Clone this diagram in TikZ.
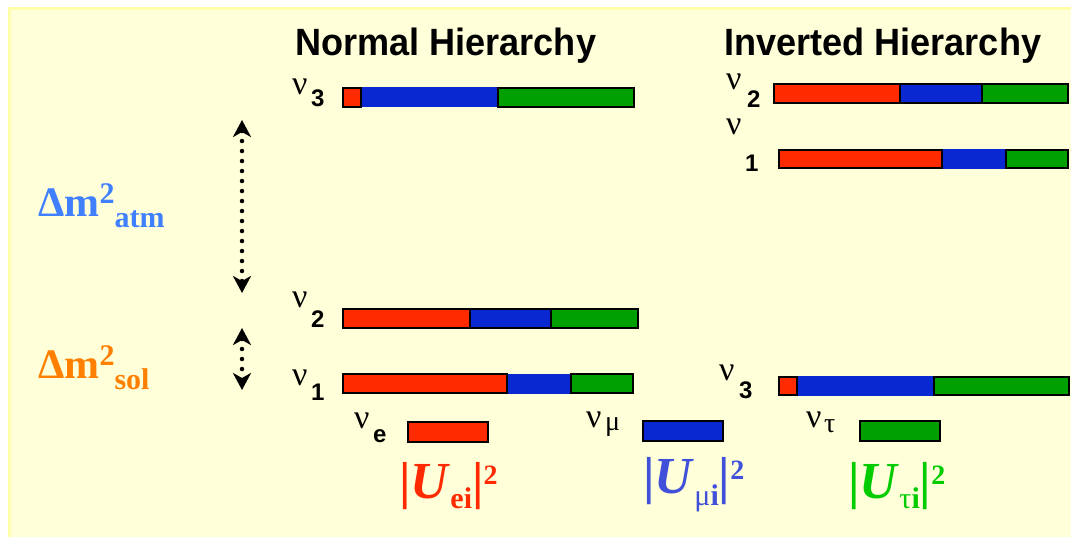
\documentclass[tikz,border=0pt]{standalone}
\usepackage{fontspec}
\setmainfont{Liberation Serif}
\setsansfont{Liberation Sans}
\newfontfamily\headfont[FakeStretch=0.95]{Liberation Sans}
\usetikzlibrary{arrows.meta}

\definecolor{paper}{RGB}{255,255,217}
\definecolor{paperedge}{RGB}{255,255,170}
\definecolor{mixred}{RGB}{255,42,0}
\definecolor{mixblue}{RGB}{10,40,210}
\definecolor{mixgreen}{RGB}{0,160,0}
\definecolor{atmblue}{RGB}{64,128,255}
\definecolor{solorange}{RGB}{255,128,0}
\definecolor{ublue}{RGB}{64,80,216}
\definecolor{ugreen}{RGB}{0,204,0}

\tikzset{
  seg/.style={anchor=west, minimum height=18.5pt, inner sep=0pt, outer sep=0pt, draw=black, line width=1.6pt},
  bareseg/.style={seg, draw=none, minimum height=20pt},
  flav/.style={seg, minimum height=20.5pt},
  nu/.style={anchor=base west, inner sep=0pt, font=\fontsize{34}{34}\selectfont},
  idx/.style={anchor=base west, inner sep=0pt, font=\sffamily\bfseries\fontsize{24}{24}\selectfont},
  greek/.style={anchor=base west, inner sep=0pt, font=\fontsize{28}{28}\selectfont},
  title/.style={anchor=base west, inner sep=0pt, font=\headfont\bfseries\fontsize{38}{38}\selectfont},
  dmlab/.style={anchor=base west, inner sep=0pt, font=\bfseries\fontsize{42}{42}\selectfont},
  ulab/.style={anchor=base west, inner sep=0pt, font=\bfseries\fontsize{52}{52}\selectfont},
  gap/.style={arrows={Stealth[length=17pt,width=18pt,inset=5pt]-Stealth[length=17pt,width=18pt,inset=5pt]}, line width=4.5pt, dash pattern=on 0pt off 10pt, line cap=round}
}

\begin{document}
\begin{tikzpicture}[x=1pt, y=-1pt]
    \useasboundingbox (0,0) rectangle (1071,537);
    \fill[white] (0,0) rectangle (1071,537);
    \fill[paper] (8,7) rectangle (1071,537);
    \draw[paperedge, line width=3pt] (9.5,537) -- (9.5,8.5) -- (1071,8.5);

    \node[title] (nhtitle) at (295,56) {Normal Hierarchy};
    \node[title] (ihtitle) at (724,56) {Inverted Hierarchy};

    % normal hierarchy
    \node[bareseg, fill=mixblue, minimum width=137pt] (nh3b) at (361,97.5) {};
    \node[seg, fill=mixred, minimum width=18pt] (nh3r) at (343,97.5) {};
    \node[seg, fill=mixgreen, minimum width=136pt] (nh3g) at (498,97.5) {};
    \node[seg, fill=mixred, minimum width=127pt] (nh2r) at (343,318.5) {};
    \node[seg, fill=mixblue, minimum width=81pt] (nh2b) at (470,318.5) {};
    \node[seg, fill=mixgreen, minimum width=87pt] (nh2g) at (551,318.5) {};
    \node[bareseg, fill=mixblue, minimum width=64pt] (nh1b) at (507,383.5) {};
    \node[seg, fill=mixred, minimum width=164pt] (nh1r) at (343,383.5) {};
    \node[seg, fill=mixgreen, minimum width=62pt] (nh1g) at (571,383.5) {};

    \node[nu] (nh3nu) at (292,95) {ν};
    \node[idx] (nh3i) at (311,107) {3};
    \node[nu] (nh2nu) at (292,308) {ν};
    \node[idx] (nh2i) at (311,327) {2};
    \node[nu] (nh1nu) at (292,385) {ν};
    \node[idx] (nh1i) at (311,400) {1};

    % inverted hierarchy
    \node[seg, fill=mixred, minimum width=126pt] (ih2r) at (774,93.5) {};
    \node[seg, fill=mixblue, minimum width=82pt] (ih2b) at (900,93.5) {};
    \node[seg, fill=mixgreen, minimum width=86pt] (ih2g) at (982,93.5) {};
    \node[bareseg, fill=mixblue, minimum width=64pt] (ih1b) at (942,159) {};
    \node[seg, fill=mixred, minimum width=163pt] (ih1r) at (779,159) {};
    \node[seg, fill=mixgreen, minimum width=62pt] (ih1g) at (1006,159) {};
    \node[bareseg, fill=mixblue, minimum width=137pt] (ih3b) at (797,386) {};
    \node[seg, fill=mixred, minimum width=18pt] (ih3r) at (779,386) {};
    \node[seg, fill=mixgreen, minimum width=135pt] (ih3g) at (934,386) {};

    \node[nu] (ih2nu) at (726,90) {ν};
    \node[idx] (ih2i) at (747,108) {2};
    \node[nu] (ih1nu) at (726,135) {ν};
    \node[idx] (ih1i) at (745,172) {1};
    \node[nu] (ih3nu) at (719,380) {ν};
    \node[idx] (ih3i) at (739,398) {3};

    % flavour content
    \node[flav, fill=mixred, minimum width=80pt] (fe) at (408,432) {};
    \node[flav, fill=mixblue, minimum width=80pt] (fmu) at (643,431) {};
    \node[flav, fill=mixgreen, minimum width=80pt] (ftau) at (860,431) {};
    \node[nu] (fenu) at (354,428) {ν};
    \node[idx] (fei) at (373,442) {e};
    \node[nu] (fmunu) at (586,427) {ν};
    \node[greek] (fmui) at (605,430) {μ};
    \node[nu] (ftaunu) at (806,427) {ν};
    \node[greek] (ftaui) at (824,432) {τ};

    \node[ulab, text=mixred] (uel) at (399,498) {|\textit{U}\raisebox{-10pt}{\fontsize{30}{30}\selectfont ei}|\raisebox{14pt}{\fontsize{28}{28}\selectfont 2}};
    \node[ulab, text=ublue] (umul) at (643,493) {|\textit{U}\raisebox{-12pt}{\fontsize{30}{30}\selectfont{\mdseries μ}i}|\raisebox{14pt}{\fontsize{28}{28}\selectfont 2}};
    \node[ulab, text=ugreen] (utaul) at (848,498) {|\textit{U}\raisebox{-10pt}{\fontsize{30}{30}\selectfont{\mdseries τ}i}|\raisebox{14pt}{\fontsize{28}{28}\selectfont 2}};

    % mass splittings
    \node[dmlab, text=atmblue] (atm) at (38,217) {Δm\raisebox{13pt}{\fontsize{30}{30}\selectfont 2}\raisebox{-11pt}{\fontsize{30}{30}\selectfont atm}};
    \node[dmlab, text=solorange] (sol) at (38,378) {Δm\raisebox{13pt}{\fontsize{30}{30}\selectfont 2}\raisebox{-11pt}{\fontsize{30}{30}\selectfont sol}};
    \coordinate (atmtop) at (242,120);
    \coordinate (atmbot) at (242,293);
    \coordinate (soltop) at (242,328);
    \coordinate (solbot) at (242,390);
    \draw[gap] (atmtop) -- (atmbot);
    \draw[gap] (soltop) -- (solbot);
\end{tikzpicture}
\end{document}
